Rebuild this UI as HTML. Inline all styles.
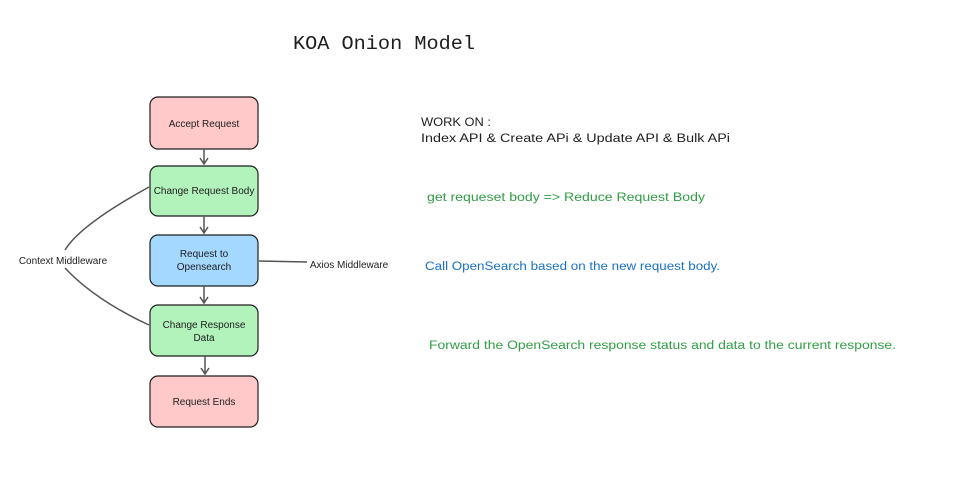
<!DOCTYPE html>
<html><head><meta charset="utf-8"><style>
body{margin:0;width:976px;height:480px;background:#fff;overflow:hidden}
</style></head><body>
<svg width="976" height="480" xmlns="http://www.w3.org/2000/svg" font-family="Liberation Sans, sans-serif">
<text x="293" y="49" font-family="Liberation Mono, monospace" font-size="19" fill="#1e1e1e" textLength="182" lengthAdjust="spacingAndGlyphs">KOA Onion Model</text>
<g stroke="#1e1e1e" stroke-width="1.2">
<rect x="150" y="97" width="108" height="52" rx="8" fill="#ffc9c9"/>
<rect x="150" y="166" width="108" height="50" rx="8" fill="#b2f2bb"/>
<rect x="150" y="235" width="108" height="51" rx="8" fill="#a5d8ff"/>
<rect x="150" y="305" width="108" height="51" rx="8" fill="#b2f2bb"/>
<rect x="150" y="376" width="108" height="51" rx="8" fill="#ffc9c9"/>
</g>
<g stroke="#555" stroke-width="1.5" fill="none">
<path d="M204 149V164M200 158l4 6 4-6"/>
<path d="M204 216V233M200 227l4 6 4-6"/>
<path d="M204 286V303M200 297l4 6 4-6"/>
<path d="M205 356V374M201 368l4 6 4-6"/>
<path d="M149 187Q80 225 65 250"/>
<path d="M65 268Q95 300 149 325"/>
<path d="M259 261L307 262"/>
</g>
<g font-size="10" fill="#1e1e1e" text-anchor="middle">
<text x="204" y="127">Accept Request</text>
<text x="204" y="194">Change Request Body</text>
<text x="204" y="257">Request to</text>
<text x="204" y="270">Opensearch</text>
<text x="204" y="328">Change Response</text>
<text x="204" y="341">Data</text>
<text x="204" y="405">Request Ends</text>
<text x="63" y="264">Context Middleware</text>
<text x="349" y="268">Axios Middleware</text>
</g>
<g font-size="11.5" lengthAdjust="spacingAndGlyphs">
<text x="421" y="126" fill="#1e1e1e" textLength="70" lengthAdjust="spacingAndGlyphs">WORK ON  :</text>
<text x="421" y="142" fill="#1e1e1e" textLength="309" lengthAdjust="spacingAndGlyphs">Index API &amp; Create APi &amp; Update API &amp; Bulk APi</text>
<text x="427" y="201" fill="#2f9e44" textLength="278" lengthAdjust="spacingAndGlyphs">get requeset body  =&gt;  Reduce Request Body</text>
<text x="425" y="270" fill="#1971c2" textLength="295" lengthAdjust="spacingAndGlyphs">Call OpenSearch based on the new request body.</text>
<text x="429" y="349" fill="#2f9e44" textLength="467" lengthAdjust="spacingAndGlyphs">Forward the OpenSearch response status and data to the current response.</text>
</g>
</svg>
</body></html>
